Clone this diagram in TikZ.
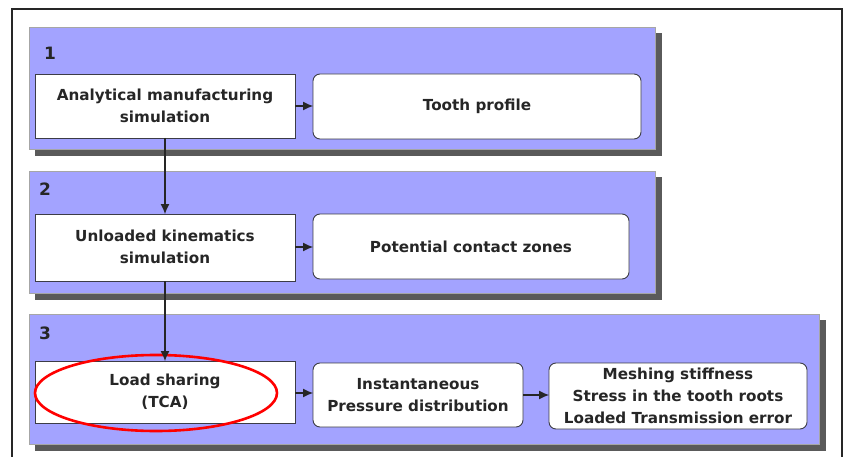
\documentclass[tikz,border=0pt]{standalone}
\usepackage{fontspec}
\setmainfont{DejaVu Sans}
\usetikzlibrary{arrows.meta}
\definecolor{panelblue}{RGB}{163,163,255}
\definecolor{shadowgray}{RGB}{90,90,90}
\definecolor{boxedge}{RGB}{60,60,70}
\begin{document}
\begin{tikzpicture}[x=1pt,y=-1pt,
  panel/.style={fill=panelblue,draw=gray!70,line width=0.6pt},
  sqbox/.style={draw=boxedge,fill=white,line width=0.9pt},
  rdbox/.style={draw=boxedge,fill=white,line width=0.9pt,rounded corners=7pt},
  lbl/.style={font=\fontsize{15.2}{22}\selectfont\bfseries,align=center,text=black!85},
  num/.style={font=\fontsize{17}{20}\selectfont\bfseries,text=black!85},
  arr/.style={-{Latex[length=10pt,width=9pt]},line width=1.1pt,draw=black!85}]
\useasboundingbox (0,0) rectangle (848,457);
\fill[white] (0,0) rectangle (848,457);
% outer frame
\draw[line width=2pt,black!85] (12,470) -- (12,9) -- (842,9) -- (842,470);
% panel shadows
\fill[shadowgray] (35,33) rectangle (662,156);
\fill[shadowgray] (35,177) rectangle (662,300);
\fill[shadowgray] (35,320) rectangle (826,451);
% panels
\draw[panel] (29,27) rectangle (655,149);
\draw[panel] (29,171) rectangle (655,293);
\draw[panel] (29,314) rectangle (819,444);
\node[num] (n1) at (50,53) {1};
\node[num] (n2) at (45,189) {2};
\node[num] (n3) at (45,333) {3};
% boxes row 1
\path[sqbox] (35,74) rectangle (295,138);
\node[lbl] (a1) at (165,106) {Analytical manufacturing\\simulation};
\coordinate (a1e) at (295,106);
\coordinate (a1s) at (165,138);
\path[rdbox] (313,74) rectangle (641,139);
\node[lbl] (t1) at (477,106) {Tooth profile};
\coordinate (t1w) at (313,106);
% row 2
\path[sqbox] (35,214) rectangle (295,281);
\node[lbl] (a2) at (165,247) {Unloaded kinematics\\simulation};
\coordinate (a2n) at (165,214);
\coordinate (a2s) at (165,281);
\coordinate (a2e) at (295,247);
\path[rdbox] (313,214) rectangle (629,279);
\node[lbl] (t2) at (471,247) {Potential contact zones};
\coordinate (t2w) at (313,247);
% row 3
\path[sqbox] (35,361) rectangle (295,423);
\node[lbl] (a3) at (165,392) {Load sharing\\(TCA)};
\coordinate (a3n) at (165,361);
\coordinate (a3e) at (295,393);
\path[rdbox] (313,363) rectangle (523,427);
\node[lbl] (b3) at (418,395) {Instantaneous\\Pressure distribution};
\coordinate (b3w) at (313,393);
\coordinate (b3e) at (523,395);
\path[rdbox] (549,363) rectangle (807,429);
\node[lbl] (c3) at (678,396) {Meshing stiffness\\Stress in the tooth roots\\Loaded Transmission error};
\coordinate (c3w) at (549,395);
% red ellipse
\draw[red,line width=2.6pt] (156,393) ellipse [x radius=121, y radius=38];
% arrows
\draw[arr] (a1e) -- (t1w);
\draw[arr] (a1s) -- (a2n);
\draw[arr] (a2e) -- (t2w);
\draw[arr] (a2s) -- (a3n);
\draw[arr] (a3e) -- (b3w);
\draw[arr] (b3e) -- (c3w);
\end{tikzpicture}
\end{document}
